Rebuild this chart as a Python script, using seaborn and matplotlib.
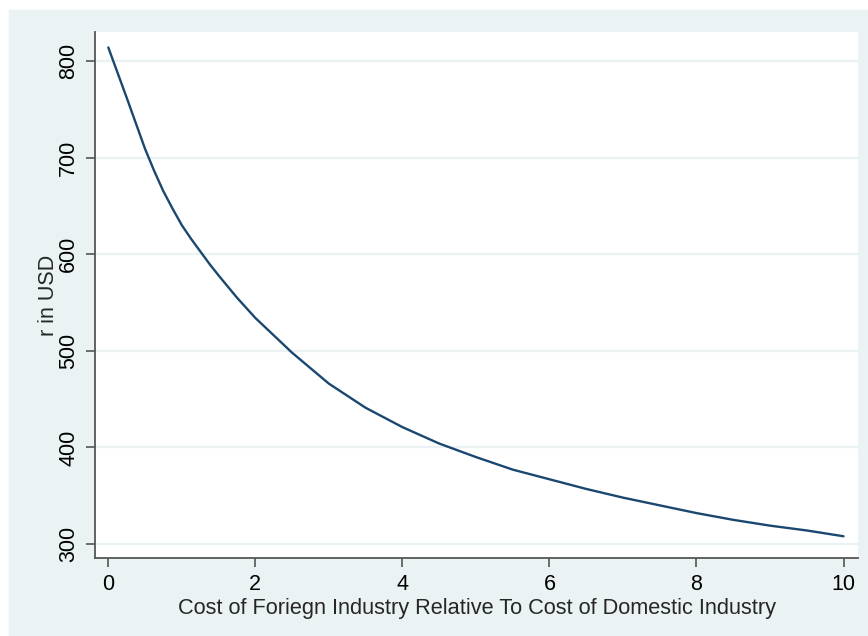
import numpy as np
import pandas as pd
import matplotlib
matplotlib.use('Agg')
import matplotlib.pyplot as plt
import seaborn as sns
from matplotlib.patches import Rectangle

# values
cost_ratio = [0.0, 0.25, 0.5, 0.625, 0.75, 0.875, 1.0, 1.125, 1.25, 1.375, 1.5,
              1.75, 2.0, 2.5, 3.0, 3.5, 4.0, 4.5, 5.0, 5.5, 6.0, 6.5, 7.0,
              7.5, 8.0, 8.5, 9.0, 9.5, 10.0]
r_usd = [814, 762, 709, 686, 665, 647, 630, 616, 603, 590, 578,
         555, 534, 498, 466, 441, 421, 404, 390, 377, 367, 357, 348,
         340, 332, 325, 319, 314, 308]
x_ticks = [0, 2, 4, 6, 8, 10]
y_ticks = [300, 400, 500, 600, 700, 800]

BG = '#EAF2F3'
LINE = '#1A476F'


def main():
    df = pd.DataFrame({'ratio': cost_ratio, 'r': r_usd})

    sns.set_style('white')
    plt.rcParams['font.family'] = ['Liberation Sans', 'DejaVu Sans']

    fig = plt.figure(figsize=(8.68, 6.36), dpi=100)
    fig.patch.set_facecolor('white')
    # stata style outer region (the reference is cropped at the right/bottom)
    fig.add_artist(Rectangle((9 / 868, 0), 1, 1 - 10 / 636,
                             transform=fig.transFigure, color=BG, zorder=-10))

    ax = fig.add_axes([95 / 868, 1 - 558 / 636, (858 - 95) / 868, (558 - 32) / 636])
    ax.set_facecolor('white')

    for yt in y_ticks:
        ax.axhline(yt, color=BG, lw=1.6, zorder=1)

    sns.lineplot(data=df, x='ratio', y='r', ax=ax, color=LINE, lw=1.7, zorder=3)

    ax.set_xlim(-0.181, 10.197)
    ax.set_ylim(285.5, 830)
    ax.set_xticks(x_ticks)
    ax.set_yticks(y_ticks)
    ax.set_yticklabels([str(v) for v in y_ticks], rotation=90, va='center')

    for s in ['top', 'right']:
        ax.spines[s].set_visible(False)
    for s in ['left', 'bottom']:
        ax.spines[s].set_color('#555555')
        ax.spines[s].set_linewidth(1.3)
    ax.tick_params(axis='both', direction='out', length=6.5, width=1.2,
                   color='#555555', labelsize=15.5, pad=5, labelcolor='black',
                   left=True, bottom=True)

    ax.set_xlabel('Cost of Foriegn Industry Relative To Cost of Domestic Industry',
                  fontsize=15.7, labelpad=2)
    ax.set_ylabel('r in USD', fontsize=15.5)
    # y title sits just left of the tick labels
    ax.yaxis.set_label_coords(-0.047, 0.5)

    fig.savefig('out.png', dpi=100, facecolor=fig.get_facecolor())


if __name__ == '__main__':
    main()
